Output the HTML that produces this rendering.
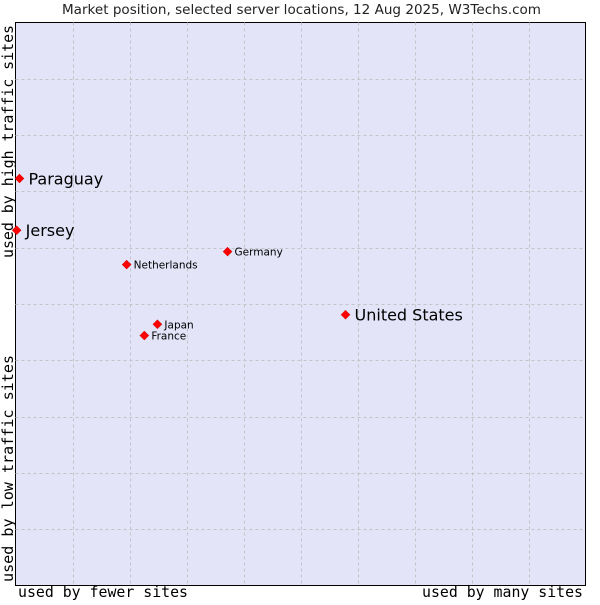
<!DOCTYPE html>
<html><head><meta charset="utf-8"><style>
body{margin:0;background:#fff;width:600px;height:600px;overflow:hidden}
svg text{font-family:"DejaVu Sans","Liberation Sans",sans-serif}
.mono{font-family:"DejaVu Sans Mono","Liberation Mono",monospace}
</style></head><body>
<svg id="chart" width="600" height="600">
<text x="62" y="14" font-size="13" fill="#222" textLength="479" lengthAdjust="spacingAndGlyphs">Market position, selected server locations, 12 Aug 2025, W3Techs.com</text>
<rect x="15.5" y="22.5" width="570" height="563" fill="#e3e4f8" stroke="#000" stroke-width="1"/>
<g id="grid"></g>
<g id="points"></g>
<text class="mono" x="18" y="597" font-size="15" textLength="170" lengthAdjust="spacingAndGlyphs">used by fewer sites</text>
<text class="mono" x="422" y="597" font-size="15" textLength="161" lengthAdjust="spacingAndGlyphs">used by many sites</text>
<text class="mono" transform="translate(13,582) rotate(-90)" font-size="15" textLength="227" lengthAdjust="spacingAndGlyphs">used by low traffic sites</text>
<text class="mono" transform="translate(13,258) rotate(-90)" font-size="15" textLength="233" lengthAdjust="spacingAndGlyphs">used by high traffic sites</text>
</svg>
<script>
const names=["Paraguay","Jersey","Germany","Netherlands","United States","Japan","France"];
const xVals=[0.7,0.2,37.2,19.5,57.9,24.9,22.6];
const yVals=[72.3,63.1,59.3,57.0,48.1,46.4,44.4];
const big=[true,true,false,false,true,false,false];
const L=15.5,R=585.5,T=22.5,B=585.5;
const sx=v=>L+v/100*(R-L), sy=v=>B-v/100*(B-T);
const ns="http://www.w3.org/2000/svg";
const grid=document.getElementById('grid');
for(let i=1;i<10;i++){
 const v=document.createElementNS(ns,'line');
 
 
 const x=Math.round(sx(i*10))+0.5;
 v.setAttribute('x1',x);v.setAttribute('x2',x);v.setAttribute('y1',T);v.setAttribute('y2',B);
 v.setAttribute('stroke','#c4c4c8');v.setAttribute('stroke-dasharray','3,3');grid.appendChild(v);
 const h=document.createElementNS(ns,'line');
 
 
 const y=Math.round(sy(i*10))+0.5;
 h.setAttribute('x1',L);h.setAttribute('x2',R);h.setAttribute('y1',y);h.setAttribute('y2',y);
 h.setAttribute('stroke','#c4c4c8');h.setAttribute('stroke-dasharray','3,3');grid.appendChild(h);
}
const pts=document.getElementById('points');
names.forEach((n,i)=>{
 const x=sx(xVals[i]),y=sy(yVals[i]);
 const d=document.createElementNS(ns,'path');
 
 
 d.setAttribute('d',`M${x-4.5} ${y}L${x} ${y-4.5}L${x+4.5} ${y}L${x} ${y+4.5}Z`);
 d.setAttribute('fill','#f00');d.setAttribute('stroke','#c00');d.setAttribute('stroke-width','0.5');
 pts.appendChild(d);
 const t=document.createElementNS(ns,'text');
 
 
 t.setAttribute('x',x+(big[i]?9:7));t.setAttribute('y',y+(big[i]?6:4));
 t.setAttribute('font-size',big[i]?16:10.5);t.textContent=n;
 pts.appendChild(t);
});
</script>
</body></html>
